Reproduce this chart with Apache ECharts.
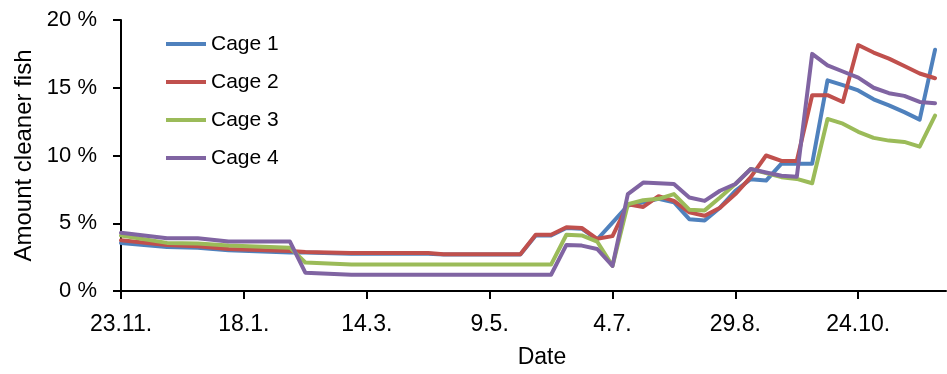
<!DOCTYPE html>
<html>
<head>
<meta charset="utf-8">
<script src="https://cdn.jsdelivr.net/npm/echarts@6/dist/echarts.min.js"></script>
<style>
html,body{margin:0;padding:0;background:#fff;}
#chart{width:947px;height:374px;}
</style>
</head>
<body>
<div id="chart"></div>
<script>
// Days since 23.11.2011 at which the values were recorded
var days = [0,21,35,49,77,84,105,140,147,182,189,196,203,210,217,224,231,238,245,252,259,266,273,280,287,294,301,308,315,322,329,336,343,350,357,364,371];
var cage1 = [3.55,3.25,3.2,3.0,2.85,2.85,2.75,2.75,2.7,2.7,4.1,4.1,4.65,4.6,3.8,5.05,6.3,6.55,6.8,6.55,5.3,5.2,6.15,7.4,8.25,8.15,9.4,9.4,9.4,15.55,15.2,14.8,14.15,13.7,13.2,12.65,17.8];
var cage2 = [3.75,3.4,3.3,3.1,2.95,2.88,2.8,2.8,2.72,2.72,4.15,4.15,4.7,4.65,3.85,4.05,6.4,6.2,7.0,6.65,5.8,5.55,6.15,7.15,8.4,10.0,9.6,9.6,14.45,14.45,13.95,18.15,17.6,17.15,16.6,16.05,15.7];
var cage3 = [4.1,3.55,3.5,3.35,3.2,2.1,1.95,1.95,1.95,1.95,1.95,1.95,4.15,4.1,3.65,1.85,6.4,6.7,6.8,7.15,6.0,5.95,6.9,7.9,9.0,8.7,8.4,8.27,7.95,12.7,12.35,11.75,11.3,11.1,11.0,10.65,12.95];
var cage4 = [4.3,3.9,3.9,3.65,3.65,1.35,1.2,1.2,1.2,1.2,1.2,1.2,3.4,3.35,3.1,1.85,7.15,8.0,7.95,7.9,6.9,6.65,7.4,7.9,9.0,8.75,8.5,8.44,17.5,16.65,16.2,15.75,15.0,14.6,14.4,13.95,13.85];
var seriesNames = ['Cage 1','Cage 2','Cage 3','Cage 4'];
var xTickDays = [0,56,112,168,224,280,336];
var xTickLabels = ['23.11.','18.1.','14.3.','9.5.','4.7.','29.8.','24.10.'];

var colors = ['#4F81BD','#C0504D','#9BBB59','#8064A2'];
var allValues = [cage1,cage2,cage3,cage4];
var FONT = 'Liberation Sans';

function pairs(vals){ return days.map(function(d,i){ return [d, vals[i]]; }); }

var chart = echarts.init(document.getElementById('chart'), null, {renderer:'canvas'});
chart.setOption({
  animation:false,
  color: colors,
  textStyle:{fontFamily:FONT, color:'#000'},
  grid:{left:121, right:1, top:20, bottom:83, containLabel:false},
  legend:{
    orient:'vertical', left:161, top:27,
    icon:'rect', itemWidth:40, itemHeight:4, itemGap:14,
    textStyle:{fontFamily:FONT, fontSize:21, color:'#000', lineHeight:24},
    data: seriesNames
  },
  xAxis:{
    type:'value', min:0, max:376, interval:56,
    name:'Date', nameLocation:'middle', nameGap:55,
    nameTextStyle:{fontFamily:FONT, fontSize:23, color:'#000', padding:[0,0,0,17]},
    splitLine:{show:false},
    axisLine:{show:true, onZero:false, lineStyle:{color:'#000', width:2}},
    axisTick:{show:true, length:8, lineStyle:{color:'#000', width:2}, customValues:xTickDays},
    axisLabel:{
      fontFamily:FONT, fontSize:23, color:'#000', margin:22,
      customValues:xTickDays,
      formatter:function(v){ var i = xTickDays.indexOf(v); return i>=0 ? xTickLabels[i] : ''; }
    }
  },
  yAxis:{
    type:'value', min:0, max:20, interval:5,
    name:'Amount cleaner fish', nameLocation:'middle', nameGap:84,
    nameTextStyle:{fontFamily:FONT, fontSize:24, color:'#000'},
    splitLine:{show:false},
    axisLine:{show:true, lineStyle:{color:'#000', width:2}},
    axisTick:{show:true, length:8, lineStyle:{color:'#000', width:2}},
    axisLabel:{fontFamily:FONT, fontSize:22, color:'#000', margin:24,
      formatter:function(v){ return v + ' %'; }}
  },
  series: seriesNames.map(function(n,i){
    return {
      name:n, type:'line', data:pairs(allValues[i]),
      symbol:'none', showSymbol:false,
      lineStyle:{width:4, color:colors[i], join:'round', cap:'round'},
      itemStyle:{color:colors[i]}
    };
  })
});
</script>
</body>
</html>
